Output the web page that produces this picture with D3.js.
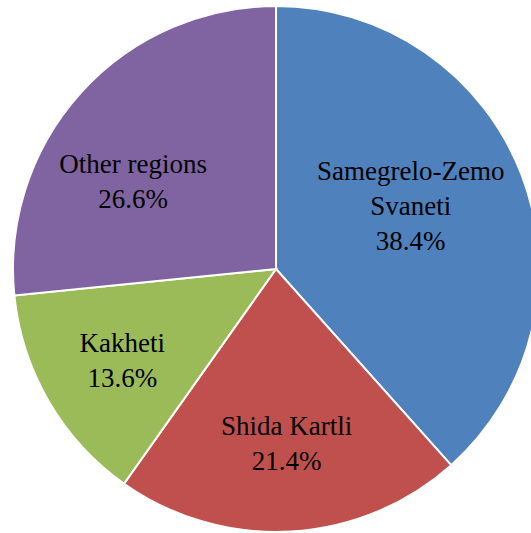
<!DOCTYPE html>
<html>
<head>
<meta charset="utf-8">
<script src="https://cdn.jsdelivr.net/npm/d3@7"></script>
<style>
  html, body { margin: 0; padding: 0; background: #fff; }
  .lbl { font-family: "Liberation Serif", serif; font-size: 27px; fill: #000; }
</style>
</head>
<body>
<script>
// regions and their share (%), clockwise from 12 o'clock
var regions = ["Samegrelo-Zemo Svaneti", "Shida Kartli", "Kakheti", "Other regions"];
var shares = [38.4, 21.4, 13.6, 26.6];
var labelLines = [["Samegrelo-Zemo", "Svaneti"], ["Shida Kartli"], ["Kakheti"], ["Other regions"]];
var colors = ["#4F81BD", "#C0504D", "#9BBB59", "#8064A2"];

var width = 531, height = 533;
var cx = 276, cy = 269, radius = 263;
var lineH = 35;

// small hand nudges so the labels sit like the original
var nudge = [[-25, -2], [1, 4], [-6, 5], [-16, 27]];

var svg = d3.select("body").append("svg")
    .attr("width", width)
    .attr("height", height);

var g = svg.append("g")
    .attr("transform", "translate(" + cx + "," + cy + ")");

var pie = d3.pie().sort(null).value(function(d) { return d; });
var arcs = pie(shares);

var arc = d3.arc().innerRadius(0).outerRadius(radius);
var labelArc = d3.arc().innerRadius(radius * 0.65).outerRadius(radius * 0.65);

g.selectAll("path.slice")
    .data(arcs)
  .enter().append("path")
    .attr("class", "slice")
    .attr("d", arc)
    .attr("fill", function(d, i) { return colors[i]; })
    .attr("stroke", "#fff")
    .attr("stroke-width", 2);

var labels = g.selectAll("text.lbl")
    .data(arcs)
  .enter().append("text")
    .attr("class", "lbl")
    .attr("text-anchor", "middle")
    .attr("transform", function(d, i) {
      var c = labelArc.centroid(d);
      return "translate(" + (c[0] + nudge[i][0]) + "," + (c[1] + nudge[i][1]) + ")";
    });

labels.each(function(d, i) {
  var lines = labelLines[i].concat([shares[i].toFixed(1) + "%"]);
  var first = -(lines.length - 1) * lineH / 2 + 9;
  d3.select(this).selectAll("tspan")
      .data(lines)
    .enter().append("tspan")
      .attr("x", 0)
      .attr("y", function(t, j) { return first + j * lineH; })
      .text(function(t) { return t; });
});
</script>
</body>
</html>
